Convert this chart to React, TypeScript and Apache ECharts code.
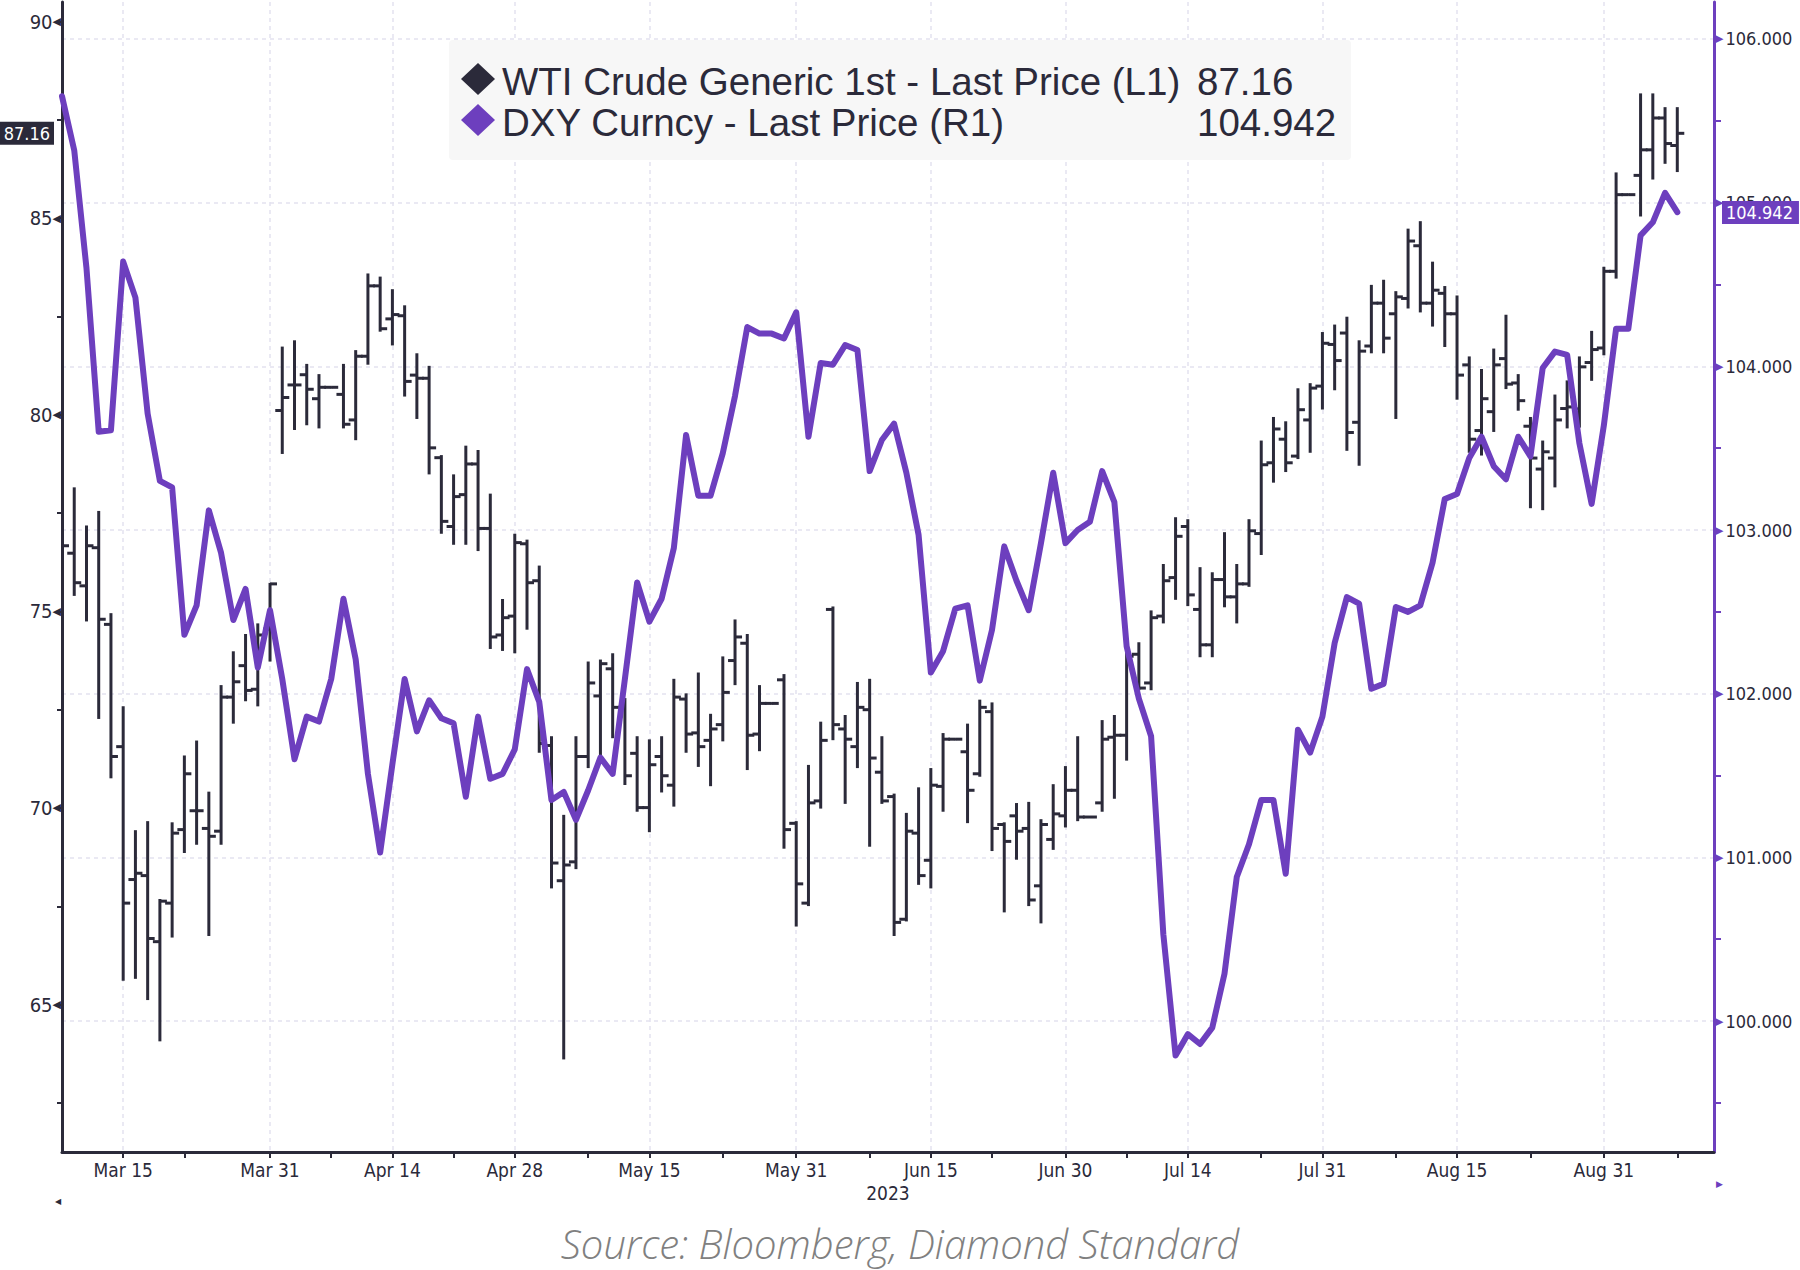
import React, { useEffect, useRef } from 'react';
import * as echarts from 'echarts';

// ---------- categories (weekdays, Mar 8 2023 .. Sep 13 2023) ----------
const MONTHS = ['Jan', 'Feb', 'Mar', 'Apr', 'May', 'Jun', 'Jul', 'Aug', 'Sep', 'Oct', 'Nov', 'Dec'];
function weekdayLabels(from: Date, to: Date): string[] {
  const out: string[] = [];
  const d = new Date(from.getTime());
  while (d <= to) {
    const w = d.getDay();
    if (w !== 0 && w !== 6) out.push(`${MONTHS[d.getMonth()]} ${d.getDate()}`);
    d.setDate(d.getDate() + 1);
  }
  return out;
}
const categories = weekdayLabels(new Date(2023, 2, 8), new Date(2023, 8, 13));

const xLabelDates = ['Mar 15', 'Mar 31', 'Apr 14', 'Apr 28', 'May 15', 'May 31', 'Jun 15', 'Jun 30', 'Jul 14', 'Jul 31', 'Aug 15', 'Aug 31'];
const xMinorTickDates = ['Mar 22', 'Apr 7', 'Apr 21', 'May 8', 'May 23', 'Jun 8', 'Jun 22', 'Jul 7', 'Jul 24', 'Aug 8', 'Aug 23', 'Sep 8'];
const yearLabel = '2023';

const leftLabelValues = [65, 70, 75, 80, 85, 90];
const leftTickValues = [62.5, 65, 67.5, 70, 72.5, 75, 77.5, 80, 82.5, 85, 87.5, 90];
const rightLabelValues = [100, 101, 102, 103, 104, 105, 106];
const rightMinorValues = [99.5, 100.5, 101.5, 102.5, 103.5, 104.5, 105.5];

// ---------- WTI Crude Generic 1st (OHLC) ----------
const wtiOpen = [
  77.0, 76.48, 75.65, 76.62, 74.67, 71.56, 68.18, 68.28, 66.6, 67.58,
  69.45, 69.93, 69.48, 69.41, 72.82, 73.62, 73.02, 74.55, 80.11, 80.76,
  81.02, 80.41, 80.7, 80.52, 79.87, 81.49, 83.28, 82.44, 82.52, 81.01,
  80.93, 78.91, 77.16, 77.97, 78.75, 77.11, 74.4, 74.88, 76.72, 75.78,
  71.59, 68.15, 68.63, 71.31, 72.85, 73.54, 72.56, 71.39, 70.01, 71.31,
  70.58, 72.77, 71.91, 71.72, 72.12, 73.75, 74.19, 71.88, 72.66, 73.26,
  69.61, 67.58, 70.18, 75.05, 72.01, 71.56, 72.5, 70.91, 70.29, 67.17,
  69.36, 68.67, 70.55, 71.75, 71.43, 70.87, 72.45, 69.58, 69.8, 69.48,
  68.02, 69.2, 69.8, 70.45, 69.77, 70.13, 71.8, 71.85, 73.91, 73.18,
  74.88, 75.86, 77.16, 75.05, 74.15, 75.81, 75.37, 75.7, 76.98, 78.78,
  79.38, 78.95, 79.87, 80.73, 81.79, 82.08, 79.81, 81.75, 82.84, 82.57,
  82.96, 84.3, 82.84, 83.09, 82.57, 81.27, 79.6, 80.08, 81.43, 80.81,
  79.71, 78.62, 78.9, 80.16, 80.15, 81.33, 81.7, 83.65, 85.6, 86.09,
  86.74, 87.55, 86.85,
];
const wtiHigh = [
  77.76, 78.13, 77.16, 77.53, 74.93, 72.56, 69.41, 69.64, 67.66, 69.61,
  71.31, 71.69, 70.39, 73.1, 73.96, 74.4, 74.67, 75.7, 81.71, 81.87,
  81.27, 81.01, 80.7, 81.27, 81.62, 83.57, 83.49, 83.17, 82.76, 81.54,
  81.22, 78.95, 78.46, 79.19, 79.08, 77.97, 75.29, 76.95, 76.8, 76.14,
  71.8, 69.8, 71.8, 73.7, 73.75, 73.91, 72.77, 71.8, 71.72, 71.8,
  73.26, 72.89, 73.42, 72.37, 73.83, 74.77, 74.4, 73.1, 72.66, 73.38,
  69.64, 71.07, 72.17, 75.1, 72.34, 73.18, 73.26, 71.8, 70.34, 69.85,
  70.5, 70.99, 71.88, 71.75, 72.12, 72.73, 72.66, 69.61, 70.1, 70.13,
  69.69, 70.58, 71.04, 71.8, 69.77, 72.21, 72.34, 73.96, 74.19, 75.0,
  76.18, 77.37, 77.32, 76.1, 75.97, 76.99, 76.18, 77.32, 79.32, 79.92,
  79.81, 80.65, 80.78, 82.08, 82.27, 82.47, 81.87, 83.28, 83.41, 83.12,
  84.71, 84.9, 83.87, 83.25, 83.01, 81.46, 81.14, 81.66, 82.52, 81.01,
  79.92, 79.32, 80.49, 80.85, 81.46, 82.11, 83.74, 86.14, 85.6, 88.15,
  88.15, 87.8, 87.8,
];
const wtiLow = [
  76.14, 75.42, 74.77, 72.29, 70.78, 65.63, 65.68, 65.14, 64.09, 66.73,
  68.88, 69.09, 66.77, 69.09, 72.17, 72.74, 72.61, 73.75, 79.03, 79.64,
  79.76, 79.68, 80.7, 79.68, 79.38, 81.3, 82.14, 81.79, 80.49, 79.92,
  78.51, 77.0, 76.72, 76.72, 76.56, 74.07, 74.02, 73.96, 74.56, 71.43,
  67.98, 63.63, 68.47, 71.04, 71.31, 71.8, 70.61, 69.93, 69.41, 70.42,
  70.06, 71.43, 71.07, 70.58, 71.72, 73.15, 70.99, 71.47, 72.66, 68.99,
  67.01, 67.53, 70.01, 71.75, 70.13, 71.04, 69.04, 70.13, 66.77, 67.14,
  68.07, 67.98, 69.93, 71.75, 69.64, 70.82, 68.93, 67.37, 68.71, 67.53,
  67.09, 68.96, 69.53, 69.69, 69.77, 69.93, 70.26, 71.23, 73.02, 73.02,
  74.72, 75.32, 75.16, 73.86, 73.86, 75.13, 74.72, 75.65, 76.46, 78.3,
  78.57, 78.9, 79.06, 80.16, 80.65, 79.11, 78.73, 81.59, 81.59, 79.92,
  82.73, 82.63, 82.27, 81.75, 80.41, 79.06, 78.99, 79.59, 80.68, 80.13,
  77.65, 77.6, 78.18, 79.68, 79.7, 80.89, 81.54, 83.49, 85.6, 85.07,
  86.01, 86.41, 86.2,
];
const wtiClose = [
  76.67, 75.73, 76.67, 74.8, 71.31, 67.58, 68.34, 66.68, 67.63, 69.36,
  70.87, 69.93, 69.28, 72.82, 73.21, 72.99, 74.4, 75.7, 80.44, 80.76,
  80.65, 80.7, 80.7, 79.76, 81.49, 83.28, 82.19, 82.55, 80.85, 80.93,
  79.16, 77.29, 77.92, 78.75, 77.11, 74.35, 74.84, 76.75, 75.73, 71.64,
  68.6, 68.55, 71.31, 73.18, 73.67, 72.56, 70.82, 70.01, 71.1, 70.82,
  72.82, 71.88, 71.56, 72.01, 72.94, 74.35, 71.85, 72.66, 72.66, 69.45,
  68.07, 70.13, 71.72, 72.12, 71.75, 72.56, 71.27, 70.18, 67.09, 69.41,
  68.28, 70.58, 71.75, 71.75, 70.45, 72.56, 69.48, 69.15, 69.41, 67.66,
  69.58, 69.85, 70.45, 69.77, 69.77, 71.75, 71.85, 73.86, 73.05, 74.84,
  75.78, 76.91, 75.42, 74.15, 75.81, 75.37, 75.7, 77.05, 78.73, 79.64,
  78.78, 80.13, 80.68, 81.82, 81.38, 79.55, 81.62, 82.84, 81.95, 83.0,
  84.42, 82.84, 83.17, 82.57, 81.01, 79.38, 80.41, 81.27, 80.78, 80.36,
  78.9, 79.06, 79.87, 80.2, 81.22, 81.66, 83.65, 85.6, 85.6, 86.74,
  87.55, 86.9, 87.16,
];

// ---------- DXY Curncy ----------
const dxyClose = [
  105.65, 105.32, 104.6, 103.6, 103.61, 104.64, 104.42, 103.71, 103.3, 103.26,
  102.36, 102.54, 103.12, 102.86, 102.45, 102.64, 102.16, 102.51, 102.09, 101.6,
  101.86, 101.83, 102.09, 102.58, 102.21, 101.51, 101.03, 101.57, 102.09, 101.77,
  101.96, 101.85, 101.82, 101.37, 101.86, 101.48, 101.51, 101.66, 102.15, 101.95,
  101.35, 101.4, 101.23, 101.41, 101.61, 101.51, 102.09, 102.68, 102.44, 102.58,
  102.89, 103.58, 103.21, 103.21, 103.47, 103.82, 104.24, 104.2, 104.2, 104.17,
  104.33, 103.57, 104.02, 104.01, 104.13, 104.1, 103.36, 103.55, 103.65, 103.35,
  102.97, 102.13, 102.26, 102.52, 102.54, 102.08, 102.39, 102.9, 102.69, 102.51,
  102.92, 103.35, 102.92, 103.0, 103.05, 103.36, 103.17, 102.29, 101.97, 101.74,
  100.53, 99.79, 99.92, 99.86, 99.96, 100.29, 100.88, 101.08, 101.35, 101.35,
  100.9, 101.78, 101.64, 101.86, 102.31, 102.59, 102.55, 102.03, 102.06, 102.53,
  102.5, 102.54, 102.8, 103.19, 103.22, 103.44, 103.57, 103.39, 103.31, 103.57,
  103.45, 103.99, 104.09, 104.07, 103.53, 103.16, 103.64, 104.23, 104.23, 104.8,
  104.88, 105.06, 104.942,
];

const wtiName = 'WTI Crude Generic 1st - Last Price (L1)';
const dxyName = 'DXY Curncy - Last Price (R1)';
const sourceText = 'Source: Bloomberg, Diamond Standard';

// ---------- styles ----------
const DARK = '#2b2a3a';
const PURPLE = '#6d3fbe';
const GRID = '#e4e2f0';
const NARROW = "'DejaVu Sans Condensed', 'Liberation Sans Narrow', sans-serif";
const SANS = "'Liberation Sans', Arial, sans-serif";

export default function App() {
  const ref = useRef<HTMLDivElement>(null);

  useEffect(() => {
    if (!ref.current) return;
    const chart = echarts.init(ref.current, null, { renderer: 'svg' });

    const labelIdx = new Set(xLabelDates.map((d) => categories.indexOf(d)));
    const minorIdx = new Set(xMinorTickDates.map((d) => categories.indexOf(d)));
    const wtiData = wtiClose.map((c, i) => [i, wtiOpen[i], wtiHigh[i], wtiLow[i], c]);
    const wtiLast = wtiClose[wtiClose.length - 1];
    const dxyLast = dxyClose[dxyClose.length - 1];

    const option: any = {
      animation: false,
      backgroundColor: '#ffffff',
      grid: { left: 62, right: 86, top: 2, bottom: 118, containLabel: false, outerBoundsMode: 'none' },
      xAxis: {
        type: 'category',
        data: categories,
        boundaryGap: false,
        axisLine: { show: true, lineStyle: { color: DARK, width: 3 } },
        axisTick: {
          show: true,
          interval: (i: number) => labelIdx.has(i) || minorIdx.has(i),
          length: 6,
          lineStyle: { color: DARK, width: 2 },
        },
        axisLabel: {
          interval: (i: number) => labelIdx.has(i),
          color: DARK,
          fontFamily: NARROW,
          fontSize: 19,
          margin: 8,
        },
        splitLine: {
          show: true,
          interval: (i: number) => labelIdx.has(i),
          lineStyle: { color: GRID, type: [4, 4], width: 1.5 },
        },
        name: yearLabel,
        nameLocation: 'middle',
        nameGap: 29,
        nameTextStyle: { color: DARK, fontFamily: NARROW, fontSize: 19 },
      },
      yAxis: [
        {
          type: 'value',
          position: 'left',
          min: 61.25,
          max: 90.5,
          axisLine: { show: true, lineStyle: { color: DARK, width: 3 } },
          axisTick: { show: true, customValues: leftTickValues, length: 5, lineStyle: { color: DARK, width: 2 } },
          axisLabel: {
            customValues: leftLabelValues,
            margin: 1,
            formatter: (v: number) => `{v|${v}}{t|◀}`,
            rich: {
              v: { color: DARK, fontFamily: NARROW, fontSize: 20 },
              t: { color: DARK, fontFamily: 'DejaVu Sans', fontSize: 11 },
            },
          },
          splitLine: { show: false },
        },
        {
          type: 'value',
          position: 'right',
          min: 99.2,
          max: 106.226,
          axisLine: { show: true, lineStyle: { color: PURPLE, width: 3 } },
          axisTick: { show: true, customValues: rightLabelValues, length: 5, lineStyle: { color: PURPLE, width: 2 } },
          axisLabel: {
            customValues: rightLabelValues,
            margin: 1,
            formatter: (v: number) => `{t|▶}{v|${v.toFixed(3)}}`,
            rich: {
              v: { color: DARK, fontFamily: NARROW, fontSize: 18, padding: [0, 0, 0, 2] },
              t: { color: PURPLE, fontFamily: 'DejaVu Sans', fontSize: 11 },
            },
          },
          splitLine: { show: true, lineStyle: { color: GRID, type: [4, 4], width: 1.5 } },
        },
        {
          type: 'value',
          position: 'right',
          min: 99.2,
          max: 106.226,
          axisLine: { show: false },
          axisTick: { show: true, customValues: rightMinorValues, length: 7, lineStyle: { color: PURPLE, width: 2 } },
          axisLabel: { show: false },
          splitLine: { show: false },
        },
      ],
      series: [
        {
          name: wtiName,
          type: 'custom',
          xAxisIndex: 0,
          yAxisIndex: 0,
          clip: true,
          z: 3,
          encode: { x: 0, y: [1, 2, 3, 4] },
          data: wtiData,
          renderItem: (params: any, api: any) => {
            const idx = api.value(0);
            const o = api.coord([idx, api.value(1)]);
            const h = api.coord([idx, api.value(2)]);
            const l = api.coord([idx, api.value(3)]);
            const c = api.coord([idx, api.value(4)]);
            const style = { stroke: DARK, lineWidth: 3 };
            return {
              type: 'group',
              children: [
                { type: 'line', shape: { x1: h[0], y1: h[1] - 1, x2: l[0], y2: l[1] + 1 }, style },
                { type: 'line', shape: { x1: o[0] - 7, y1: o[1], x2: o[0], y2: o[1] }, style },
                { type: 'line', shape: { x1: c[0], y1: c[1], x2: c[0] + 7, y2: c[1] }, style },
              ],
            };
          },
          markLine: {
            silent: true,
            symbol: ['none', 'none'],
            lineStyle: { color: 'rgba(0,0,0,0)', width: 0 },
            label: {
              show: true,
              position: 'start',
              distance: 8,
              formatter: wtiLast.toFixed(2),
              color: '#ffffff',
              backgroundColor: DARK,
              padding: [3, 4, 2, 4],
              fontFamily: NARROW,
              fontSize: 18,
            },
            data: [{ yAxis: wtiLast }],
          },
        },
        {
          name: dxyName,
          type: 'line',
          xAxisIndex: 0,
          yAxisIndex: 1,
          z: 4,
          data: dxyClose,
          showSymbol: false,
          symbol: 'none',
          lineStyle: { color: PURPLE, width: 6, join: 'round', cap: 'round' },
          itemStyle: { color: PURPLE },
          markLine: {
            silent: true,
            symbol: ['none', 'none'],
            lineStyle: { color: 'rgba(0,0,0,0)', width: 0 },
            label: {
              show: true,
              position: 'end',
              distance: 8,
              formatter: dxyLast.toFixed(3),
              color: '#ffffff',
              backgroundColor: PURPLE,
              padding: [3, 6, 2, 4],
              fontFamily: NARROW,
              fontSize: 18,
            },
            data: [{ yAxis: dxyLast }],
          },
        },
      ],
      graphic: [
        { type: 'rect', z: 20, shape: { x: 449, y: 40, width: 902, height: 120, r: 4 }, style: { fill: '#f7f7f7' } },
        { type: 'polygon', z: 21, shape: { points: [[478, 63], [495, 79], [478, 95], [461, 79]] }, style: { fill: DARK } },
        { type: 'polygon', z: 21, shape: { points: [[478, 104], [495, 120], [478, 136], [461, 120]] }, style: { fill: PURPLE } },
        { type: 'text', z: 21, x: 502, y: 81, style: { text: wtiName, fill: DARK, font: `38.5px ${SANS}`, verticalAlign: 'middle' } },
        { type: 'text', z: 21, x: 502, y: 122, style: { text: dxyName, fill: DARK, font: `38.5px ${SANS}`, verticalAlign: 'middle' } },
        { type: 'text', z: 21, x: 1197, y: 81, style: { text: wtiLast.toFixed(2), fill: DARK, font: `38.5px ${SANS}`, verticalAlign: 'middle' } },
        { type: 'text', z: 21, x: 1197, y: 122, style: { text: dxyLast.toFixed(3), fill: DARK, font: `38.5px ${SANS}`, verticalAlign: 'middle' } },
        { type: 'text', z: 21, x: 55, y: 1201, style: { text: '◀', fill: DARK, font: "8px 'DejaVu Sans'", verticalAlign: 'middle' } },
        { type: 'text', z: 21, x: 1716, y: 1184, style: { text: '▶', fill: PURPLE, font: "9px 'DejaVu Sans'", verticalAlign: 'middle' } },
        {
          type: 'text',
          z: 21,
          x: 900,
          y: 1243,
          style: {
            text: sourceText,
            fill: '#808080',
            font: "italic 300 40px 'Open Sans', Lato, sans-serif",
            align: 'center',
            verticalAlign: 'middle',
          },
        },
      ],
    };

    chart.setOption(option);
    return () => chart.dispose();
  }, []);

  return (
    <div
      ref={ref}
      style={{ position: 'absolute', left: 0, top: 0, width: 1800, height: 1270, background: '#ffffff' }}
    />
  );
}
